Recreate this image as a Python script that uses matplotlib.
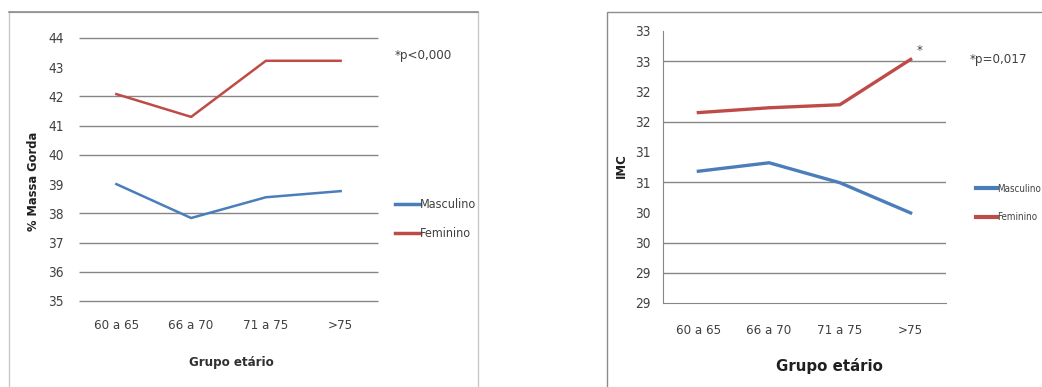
import matplotlib
matplotlib.use("Agg")
import matplotlib.pyplot as plt
from matplotlib.patches import Rectangle
from matplotlib.lines import Line2D
from matplotlib.font_manager import FontProperties

# ---- data ----
categories = ["60 a 65", "66 a 70", "71 a 75", ">75"]

mg_masculino = [39.0, 37.84, 38.55, 38.76]
mg_feminino = [42.08, 41.3, 43.22, 43.22]
mg_ticks = [35, 36, 37, 38, 39, 40, 41, 42, 43, 44]
mg_grid = [35, 36, 37, 38, 40, 41, 42, 44]

imc_masculino = [30.68, 30.82, 30.49, 29.99]
imc_feminino = [31.65, 31.73, 31.78, 32.53]
imc_ticks = [28.5, 29.0, 29.5, 30.0, 30.5, 31.0, 31.5, 32.0, 32.5, 33.0]
imc_tick_labels = ["29", "29", "30", "30", "31", "31", "32", "32", "33", "33"]
imc_grid = [29.0, 29.5, 30.5, 31.5, 32.5]

series_names = ["Masculino", "Feminino"]
annot_left = "*p<0,000"
annot_right = "*p=0,017"

BLUE = "#4A7EBB"
RED = "#BE4B48"
GRID = "#868686"
TXT = "#404040"

def cond(size, weight="normal"):
    return FontProperties(family="DejaVu Sans", stretch="condensed", size=size, weight=weight)

W, H = 1042, 387
fig = plt.figure(figsize=(W / 100, H / 100), dpi=100)
fig.patch.set_facecolor("white")

def px(x0, y0, x1, y1):
    return [x0 / W, 1 - y1 / H, (x1 - x0) / W, (y1 - y0) / H]

# chart frames
fig.add_artist(Rectangle((9 / W, -0.05), (478 - 9) / W, 1.05 - 12 / H,
                         transform=fig.transFigure, fill=False,
                         edgecolor="#C8C8C8", lw=1.0))
fig.add_artist(Line2D([9 / W, 478 / W], [1 - 12 / H, 1 - 12 / H],
                      transform=fig.transFigure, color="#8C8C8C", lw=1.2))
fig.add_artist(Rectangle((607 / W, -0.05), 0.5, 1.05 - 12 / H,
                         transform=fig.transFigure, fill=False,
                         edgecolor="#8C8C8C", lw=1.0))

xs = list(range(len(categories)))

# ---- left chart ----
ax1 = fig.add_axes(px(79, 38, 378, 301))
ax1.hlines(mg_grid, -0.5, 3.5, color=GRID, lw=1.0, zorder=1, clip_on=False)
ax1.plot(xs, mg_masculino, color=BLUE, lw=1.8, label=series_names[0], zorder=3)
ax1.plot(xs, mg_feminino, color=RED, lw=1.8, label=series_names[1], zorder=3)
ax1.set_xlim(-0.5, 3.5)
ax1.set_ylim(35, 44)
ax1.set_yticks(mg_ticks)
ax1.set_yticklabels([str(t) for t in mg_ticks], fontproperties=cond(9.8), color=TXT)
ax1.set_xticks(xs)
ax1.set_xticklabels(categories, fontproperties=cond(9.5), color=TXT)
for s in ax1.spines.values():
    s.set_visible(False)
ax1.tick_params(length=0, pad=11)
ax1.tick_params(axis="x", pad=13)
ax1.set_ylabel("% Massa Gorda", fontsize=8.3, fontweight="bold", color="#202020")
ax1.yaxis.set_label_coords(-0.13, 0.456)
ax1.set_xlabel("Grupo etário", fontproperties=cond(9.5, "bold"), color="#303030")
ax1.xaxis.set_label_coords(0.508, -0.208)
ax1.text(395 / W, 1 - 55 / H, annot_left, transform=fig.transFigure,
         fontproperties=cond(9.5), color=TXT, va="center")
leg1 = ax1.legend(loc="center left", bbox_to_anchor=(389 / W, 1 - 219 / H),
                  bbox_transform=fig.transFigure, frameon=False,
                  prop=cond(9), handlelength=2.0,
                  handletextpad=0.0, labelspacing=1.3, borderpad=0)
for t in leg1.get_texts():
    t.set_color(TXT)
for l in leg1.get_lines():
    l.set_linewidth(2.5)

# ---- right chart ----
ax2 = fig.add_axes(px(663, 31, 946, 303))
ax2.hlines(imc_grid, -0.5, 3.5, color=GRID, lw=1.0, zorder=1)
ax2.plot(xs, imc_masculino, color=BLUE, lw=2.4, label=series_names[0], zorder=3)
ax2.plot(xs, imc_feminino, color=RED, lw=2.4, label=series_names[1], zorder=3)
ax2.set_xlim(-0.5, 3.5)
ax2.set_ylim(28.5, 33.0)
ax2.set_yticks(imc_ticks)
ax2.set_yticklabels(imc_tick_labels, fontproperties=cond(9.8), color=TXT)
ax2.set_xticks(xs)
ax2.set_xticklabels(categories, fontproperties=cond(9.5), color=TXT)
for k, s in ax2.spines.items():
    s.set_visible(k in ("left", "bottom"))
    s.set_color(GRID)
ax2.tick_params(length=0, pad=9)
ax2.tick_params(axis="x", pad=15)
ax2.set_ylabel("IMC", fontsize=8.5, fontweight="bold", color="#202020")
ax2.yaxis.set_label_coords(-0.124, 0.504)
ax2.set_xlabel("Grupo etário", fontsize=10.8, fontweight="bold", color="#202020")
ax2.xaxis.set_label_coords(0.587, -0.203)
ax2.text(3.12, 32.68, "*", fontproperties=cond(9.5),
         color=TXT, ha="center", va="center")
ax2.text(970 / W, 1 - 60 / H, annot_right, transform=fig.transFigure,
         fontproperties=cond(9.5), color=TXT, va="center")
leg2 = ax2.legend(loc="center left", bbox_to_anchor=(971 / W, 1 - 203 / H),
                  bbox_transform=fig.transFigure, frameon=False,
                  prop=cond(7.0), handlelength=2.15,
                  handletextpad=0.0, labelspacing=1.95, borderpad=0)
for t in leg2.get_texts():
    t.set_color(TXT)
for l in leg2.get_lines():
    l.set_linewidth(3)

fig.savefig("out.png", dpi=100, facecolor="white")
